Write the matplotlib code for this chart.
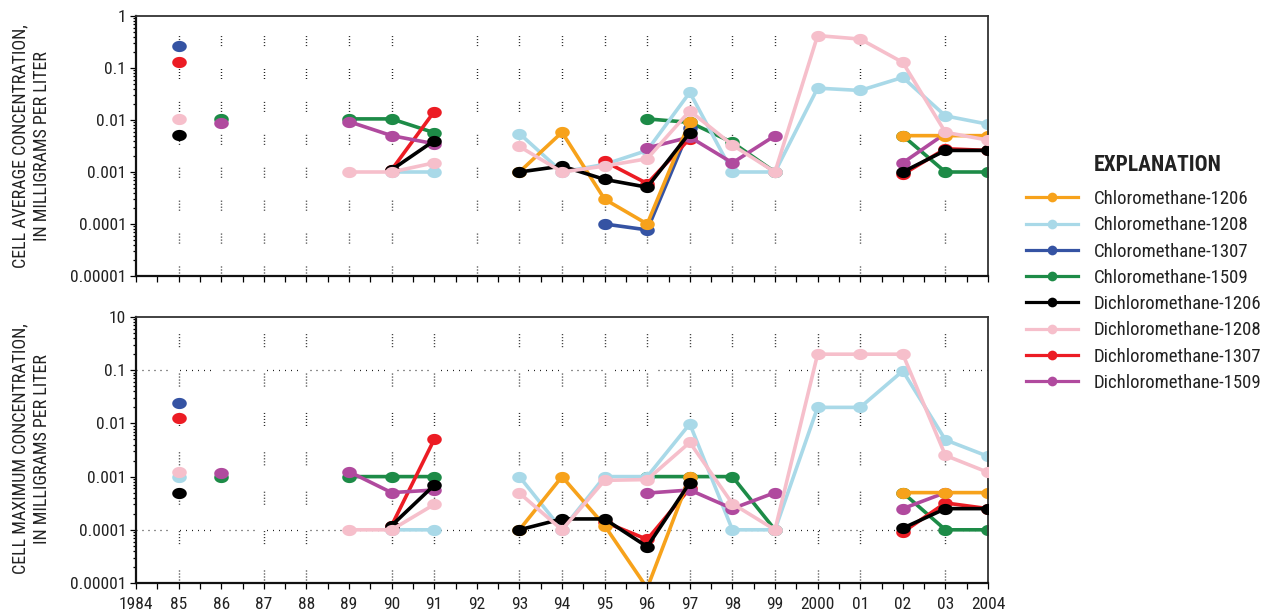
import numpy as np
import matplotlib
matplotlib.use("Agg")
import matplotlib.pyplot as plt
from matplotlib.path import Path
from matplotlib.lines import Line2D
from matplotlib.ticker import FixedLocator, FixedFormatter, NullFormatter, LogLocator
from matplotlib import font_manager as fm

# ---------------- data ----------------
nan = np.nan
years = list(range(1985, 2005))

series_names = ["Chloromethane-1206", "Chloromethane-1208", "Chloromethane-1307",
                "Chloromethane-1509", "Dichloromethane-1206", "Dichloromethane-1208",
                "Dichloromethane-1307", "Dichloromethane-1509"]

# Cell average concentration (mg/L), 1985..2004
avg_cm_1206 = [nan, nan, nan, nan, nan, nan, nan, nan, 0.001, 0.0058, 0.0003, 0.0001, 0.0093, nan, nan, nan, nan, 0.005, 0.005, 0.005]
avg_cm_1208 = [nan, nan, nan, nan, nan, 0.001, 0.001, nan, 0.0055, 0.001, 0.0014, 0.0026, 0.034, 0.001, 0.001, 0.041, 0.037, 0.066, 0.012, 0.0083]
avg_cm_1307 = [0.26, nan, nan, nan, nan, nan, nan, nan, nan, nan, 0.0001, 0.000077, 0.007, nan, nan, nan, nan, nan, nan, nan]
avg_cm_1509 = [nan, 0.0105, nan, nan, 0.0105, 0.0105, 0.0057, nan, nan, nan, nan, 0.0105, 0.009, 0.0037, 0.001, nan, nan, 0.005, 0.001, 0.001]
avg_dcm_1206 = [0.0051, nan, nan, nan, nan, 0.0011, 0.004, nan, 0.001, 0.0013, 0.00072, 0.00051, 0.0057, nan, nan, nan, nan, 0.001, 0.0026, 0.0026]
avg_dcm_1208 = [0.0103, nan, nan, nan, 0.001, 0.001, 0.0015, nan, 0.0031, 0.001, 0.0013, 0.0018, 0.015, 0.0033, 0.001, 0.42, 0.36, 0.128, 0.0058, 0.0041]
avg_dcm_1307 = [0.128, nan, nan, nan, nan, 0.0011, 0.0145, nan, nan, nan, 0.0016, 0.0006, 0.0044, nan, nan, nan, nan, 0.0009, 0.0028, 0.0026]
avg_dcm_1509 = [nan, 0.0089, nan, nan, 0.0093, 0.005, 0.0035, nan, nan, nan, nan, 0.0029, 0.0047, 0.0015, 0.005, nan, nan, 0.0015, 0.0055, nan]

# Cell maximum concentration (mg/L), 1985..2004
max_cm_1206 = [nan, nan, nan, nan, nan, nan, nan, nan, 0.0001, 0.001, 0.00012, 0.000008, 0.001, nan, nan, nan, nan, 0.0005, 0.0005, 0.0005]
max_cm_1208 = [0.001, nan, nan, nan, nan, 0.0001, 0.0001, nan, 0.001, 0.0001, 0.001, 0.001, 0.0098, 0.0001, 0.0001, 0.02, 0.02, 0.097, 0.0049, 0.0024]
max_cm_1307 = [0.0245, nan, nan, nan, nan, nan, nan, nan, nan, nan, nan, nan, nan, nan, nan, nan, nan, nan, nan, nan]
max_cm_1509 = [nan, 0.001, nan, nan, 0.001, 0.001, 0.001, nan, nan, nan, nan, 0.001, 0.001, 0.001, 0.0001, nan, nan, 0.0005, 0.0001, 0.0001]
max_dcm_1206 = [0.00049, nan, nan, nan, nan, 0.00012, 0.00069, nan, 0.0001, 0.00016, 0.00016, 0.000048, 0.00077, nan, nan, nan, nan, 0.000107, 0.00025, 0.00025]
max_dcm_1208 = [0.00124, nan, nan, nan, 0.0001, 0.0001, 0.0003, nan, 0.00049, 0.0001, 0.00085, 0.00088, 0.0044, 0.00031, 0.0001, 0.2, 0.2, 0.2, 0.0025, 0.0012]
max_dcm_1307 = [0.0125, nan, nan, nan, nan, 0.00012, 0.005, nan, nan, nan, 0.00014, 0.000066, 0.0006, nan, nan, nan, nan, 0.00009, 0.00032, 0.00025]
max_dcm_1509 = [nan, 0.00118, nan, nan, 0.00124, 0.0005, 0.00056, nan, nan, nan, nan, 0.00049, 0.00056, 0.00025, 0.0005, nan, nan, 0.00025, 0.0005, nan]

avg_data = [avg_cm_1206, avg_cm_1208, avg_cm_1307, avg_cm_1509,
            avg_dcm_1206, avg_dcm_1208, avg_dcm_1307, avg_dcm_1509]
max_data = [max_cm_1206, max_cm_1208, max_cm_1307, max_cm_1509,
            max_dcm_1206, max_dcm_1208, max_dcm_1307, max_dcm_1509]

xtick_years = list(range(1984, 2005))
xtick_labels = ["1984", "85", "86", "87", "88", "89", "90", "91", "92", "93", "94", "95",
                "96", "97", "98", "99", "2000", "01", "02", "03", "2004"]
top_ytick_labels = ["0.00001", "0.0001", "0.001", "0.01", "0.1", "1"]
bot_ytick_labels = ["0.00001", "0.0001", "0.001", "0.01", "0.1", "10"]

# ---------------- fonts: prefer a condensed sans ----------------
FONT, STRETCH, NARROW = "Liberation Sans", "normal", False
entries = fm.fontManager.ttflist
found = False
for fam in ["Liberation Sans Narrow", "Noto Sans Condensed", "Noto Sans SemiCondensed",
            "DejaVu Sans Condensed", "Roboto Condensed", "Open Sans Condensed"]:
    if any(e.name == fam for e in entries):
        FONT, STRETCH, NARROW, found = fam, "normal", True, True
        break
if not found:
    for fam in ["Noto Sans", "DejaVu Sans", "Open Sans", "Roboto"]:
        for e in entries:
            if e.name == fam and (str(e.stretch) in ("condensed", "semi-condensed")
                                  or "Condensed" in e.fname):
                FONT, STRETCH, NARROW, found = fam, "condensed", True, True
                break
        if found:
            break
if not found:
    for e in entries:
        if "Narrow" in e.name or "Condensed" in e.name:
            FONT, STRETCH, NARROW, found = e.name, "normal", True, True
            break

plt.rcParams["font.family"] = [FONT, "DejaVu Sans"]
plt.rcParams["font.stretch"] = STRETCH
plt.rcParams["lines.scale_dashes"] = False
fs_tick = 12.5 if NARROW else 11.5
fs_leg = 13.5 if NARROW else 11.5
fs_lab = 13 if NARROW else 11.5
fs_title = 15.5 if NARROW else 14

# ---------------- style ----------------
colors = ["#F7A21B", "#A9D9E8", "#3553A3", "#1D8B47", "#000000", "#F6BFCB", "#EC1C24", "#B04A9E"]
zorders = [2.5, 2.1, 2.2, 2.0, 2.6, 2.7, 2.3, 2.4]

W, H = 1266, 616
fig = plt.figure(figsize=(W / 100, H / 100), dpi=100)


def px_axes(l, t, r, b):
    return fig.add_axes([l / W, 1 - b / H, (r - l) / W, (b - t) / H])


ax1 = px_axes(136, 16, 988, 276)
ax2 = px_axes(136, 317, 988, 583)

# ellipse marker (slightly wider than tall)
th = np.linspace(0, 2 * np.pi, 40)
ell = Path(np.column_stack([1.3 * np.cos(th), np.sin(th)]), closed=True)

grid_top = [1985, 1986, 1987, 1988, 1989, 1990, 1992, 1993, 1994, 1995, 1996, 1997, 1998, 1999, 2001, 2003]
grid_bot = [1985, 1987, 1988, 1990, 1991, 1993, 1994, 1995, 1996, 1997, 1998, 1999, 2000, 2001, 2003]

d = 0.72
vpat_top = (0, [d, 1.44] * 3 + [d, 16.5])
vpat_bot = (0, [d, 1.44] * 4 + [d, 19.0])
hpat = (0, [d, 3.6] * 5 + [d, 9.0])

for ax, data, ylabels, grid, vpat in [(ax1, avg_data, top_ytick_labels, grid_top, vpat_top),
                                      (ax2, max_data, bot_ytick_labels, grid_bot, vpat_bot)]:
    ax.set_yscale("log")
    ax.set_xlim(1984, 2004)
    ax.set_ylim(1e-5, 1)
    for yr in grid:
        ax.axvline(yr, color="#222222", lw=1.0, linestyle=vpat, zorder=1)
    for vals, c, z in zip(data, colors, zorders):
        ax.plot(years, vals, color=c, lw=2.6, marker=ell, markersize=10.5,
                markeredgewidth=0, zorder=z, solid_capstyle="round")
    ax.yaxis.set_major_locator(FixedLocator([1e-5, 1e-4, 1e-3, 1e-2, 1e-1, 1]))
    ax.yaxis.set_major_formatter(FixedFormatter(ylabels))
    ax.yaxis.set_minor_locator(LogLocator(base=10, subs=(2, 3, 4, 5, 6, 7, 8, 9)))
    ax.yaxis.set_minor_formatter(NullFormatter())
    ax.xaxis.set_major_locator(FixedLocator(xtick_years))
    ax.xaxis.set_minor_locator(FixedLocator([y + 0.5 for y in xtick_years[:-1]]))
    ax.tick_params(axis="both", which="major", direction="out", length=4, width=0.9,
                   labelsize=fs_tick, pad=3, labelcolor="#222222")
    ax.tick_params(axis="both", which="minor", direction="out", length=4, width=0.9)
    ax.tick_params(axis="y", which="minor", length=2)
    for s in ["left", "bottom"]:
        ax.spines[s].set_linewidth(1.6)
        ax.spines[s].set_color("#111111")
    for s in ["top", "right"]:
        ax.spines[s].set_linewidth(1.3)
        ax.spines[s].set_color("#333333")

ax1.xaxis.set_major_formatter(NullFormatter())
ax2.xaxis.set_major_formatter(FixedFormatter(xtick_labels))
ax2.tick_params(axis="x", which="major", pad=6)

for y in [1e-1, 1e-4]:
    ax2.axhline(y, color="#222222", lw=0.9, linestyle=hpat, zorder=1)

fig.text(31 / W, 1 - 146 / H, "CELL AVERAGE CONCENTRATION,\nIN MILLIGRAMS PER LITER",
         rotation=90, ha="center", va="center", fontsize=fs_lab, linespacing=1.3,
         multialignment="center", color="#222222")
fig.text(31 / W, 1 - 449 / H, "CELL MAXIMUM CONCENTRATION,\nIN MILLIGRAMS PER LITER",
         rotation=90, ha="center", va="center", fontsize=fs_lab, linespacing=1.3,
         multialignment="center", color="#222222")

fig.text(1094 / W, 1 - 165 / H, "EXPLANATION", fontweight="bold", fontsize=fs_title,
         ha="left", va="center", color="#222222")
handles = [Line2D([], [], color=c, lw=2.3, marker="o", markersize=7, markeredgewidth=0)
           for c in colors]
fig.legend(handles, series_names, loc="upper left", bbox_to_anchor=(1026 / W, 1 - 190 / H),
           frameon=False, borderpad=0, borderaxespad=0, handlelength=2.77,
           handletextpad=0.85, labelspacing=0.44, fontsize=fs_leg, labelcolor="#222222")

fig.savefig("out.png", dpi=100)
